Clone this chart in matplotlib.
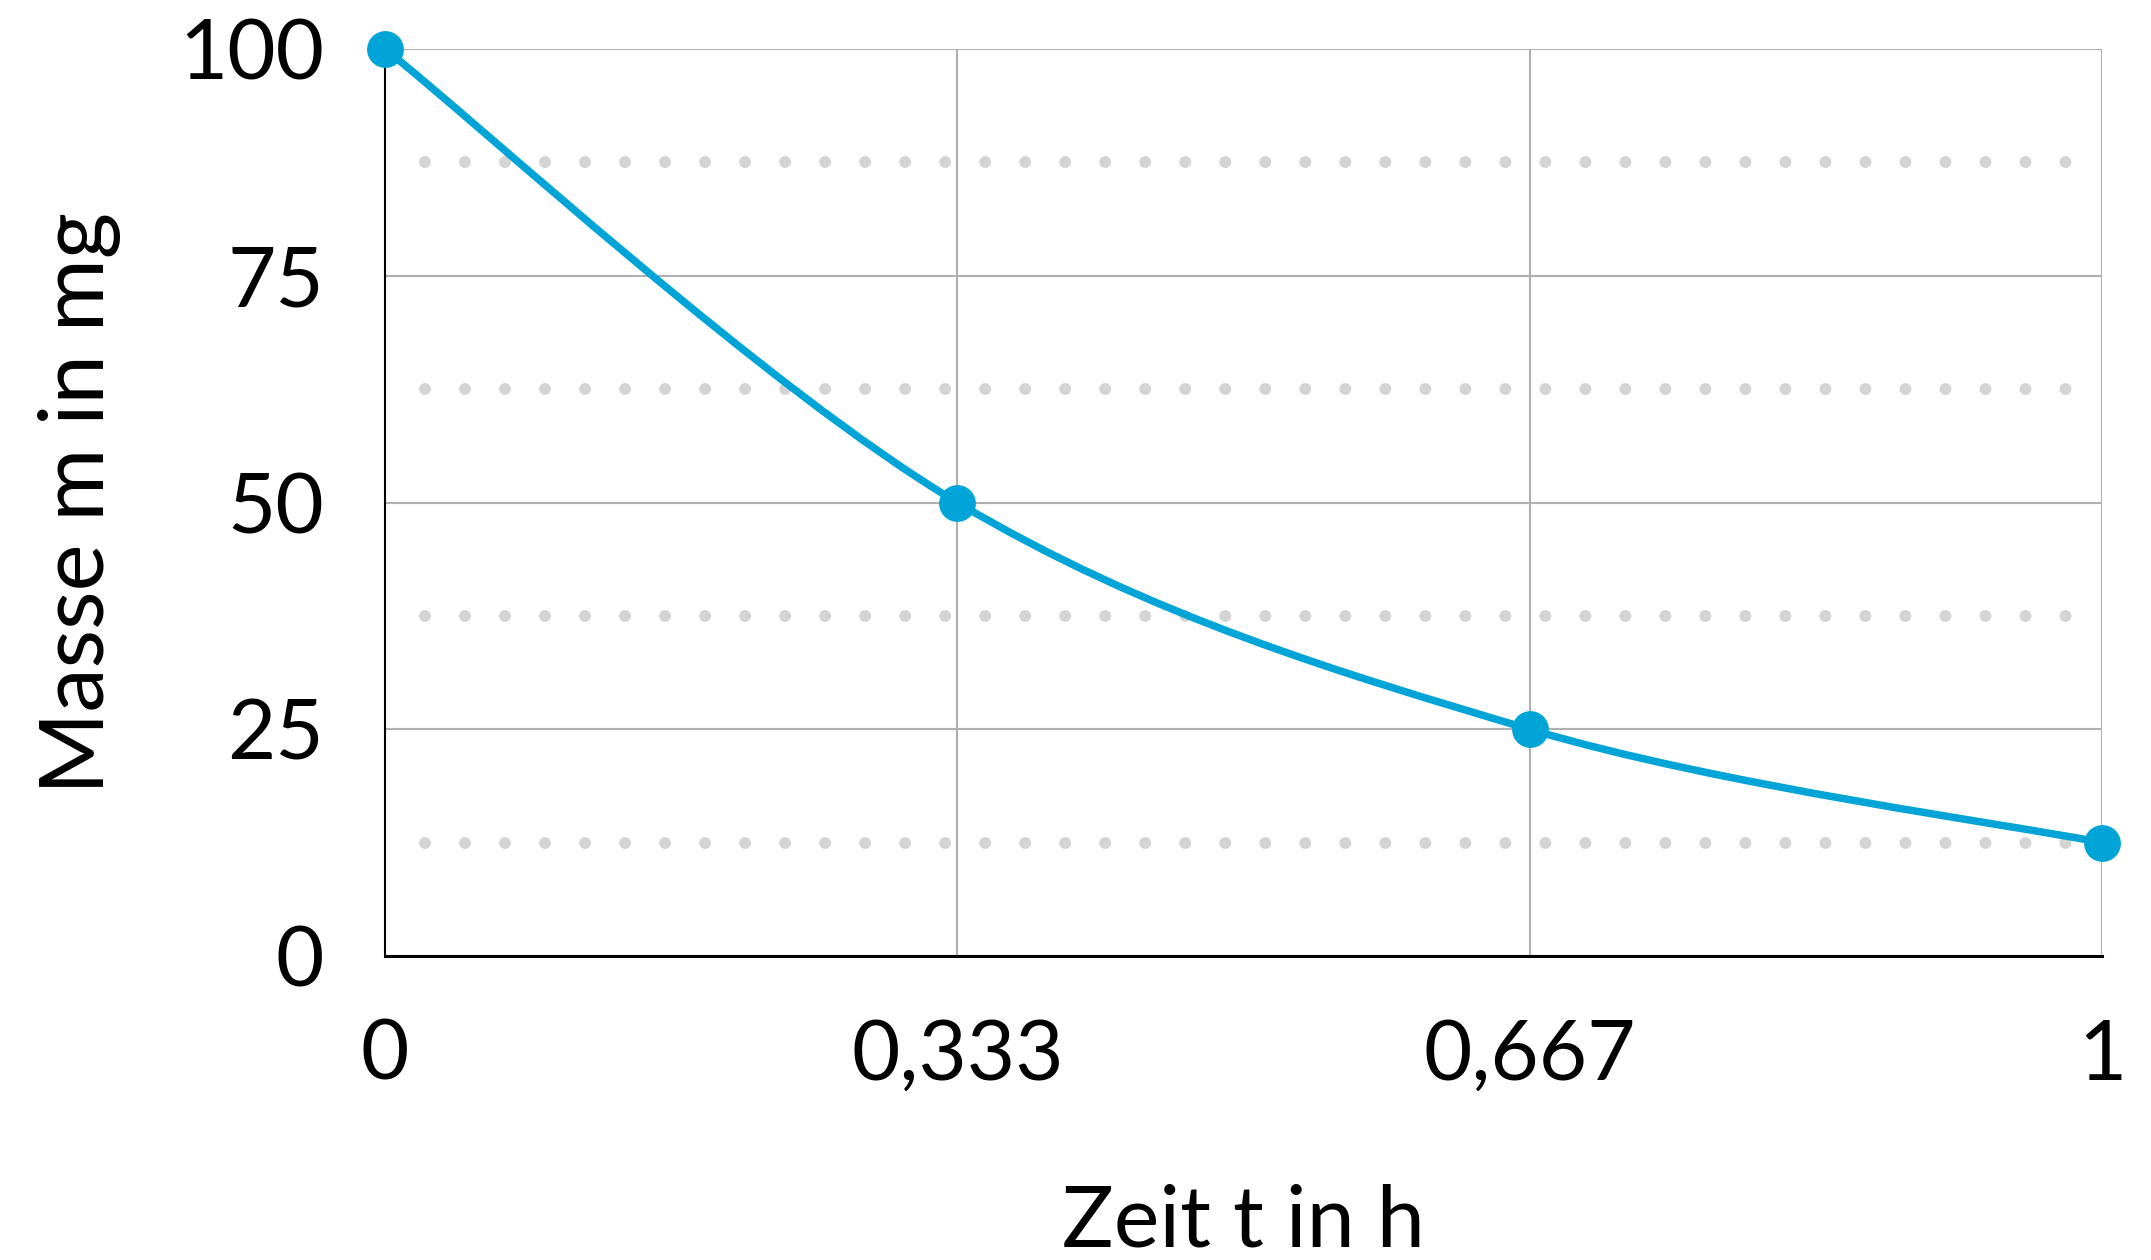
import matplotlib
matplotlib.use("Agg")
import matplotlib.pyplot as plt
from matplotlib.path import Path
from matplotlib.patches import PathPatch
import numpy as np

# ---- data ----
zeit = [0.0, 1/3, 2/3, 1.0]
masse = [100, 50, 25, 12.5]
x_ticks = [0.0, 1/3, 2/3, 1.0]
x_tick_labels = ["0", "0,333", "0,667", "1"]
y_ticks = [0, 25, 50, 75, 100]
y_tick_labels = ["0", "25", "50", "75", "100"]
y_minor = [12.5, 37.5, 62.5, 87.5]
x_label = "Zeit t in h"
y_label = "Masse m in mg"

BLUE = "#00A4D7"
GRID = "#b0b0b0"
DOT = "#d4d4d4"
FONT = "Lato"
FS = 60

plt.rcParams['font.family'] = [FONT, 'DejaVu Sans']

W, H = 2151, 1260
fig = plt.figure(figsize=(W/100, H/100), dpi=100)
L, R, T, B = 385, 2102, 49, 956
ax = fig.add_axes([L/W, (H-B)/H, (R-L)/W, (B-T)/H])
ax.set_xlim(0, 1)
ax.set_ylim(0, 100)

# grid lines
for y in y_ticks[1:]:
    ax.axhline(y, color=GRID, lw=1.5, zorder=1)
for x in x_ticks[1:]:
    ax.axvline(x, color=GRID, lw=1.5, zorder=1)

# dotted minor lines
pw = R - L
sp = 40
dot_px = 12
lw_pt = dot_px * 72 / 100
for y in y_minor:
    ax.axhline(y, xmin=sp/pw, xmax=(42*sp + 1)/pw, color=DOT, lw=lw_pt,
               linestyle=(0, (0.001, sp/dot_px)), dash_capstyle='round', zorder=1)

# smooth curve (Catmull-Rom style, Bezier segments) through data
pts = np.column_stack([zeit, masse])
n = len(pts)
verts = [tuple(pts[0])]
codes = [Path.MOVETO]
for i in range(n - 1):
    p0 = pts[max(i - 1, 0)]
    p1 = pts[i]
    p2 = pts[i + 1]
    p3 = pts[min(i + 2, n - 1)]
    c1 = p1 + (p2 - p0) / 6
    c2 = p2 - (p3 - p1) / 6
    verts += [tuple(c1), tuple(c2), tuple(p2)]
    codes += [Path.CURVE4] * 3
patch = PathPatch(Path(verts, codes), facecolor='none', edgecolor=BLUE,
                  lw=5.4, transform=ax.transData, zorder=3, clip_on=False,
                  capstyle='round')
ax.add_patch(patch)
ax.plot(zeit, masse, linestyle='none', marker='o', ms=26.5, color=BLUE,
        markeredgewidth=0, zorder=4, clip_on=False)

# spines
for s in ['top', 'right']:
    ax.spines[s].set_visible(False)
ax.spines['left'].set_color('black')
ax.spines['left'].set_linewidth(1.5)
ax.spines['bottom'].set_color('black')
ax.spines['bottom'].set_linewidth(2.2)

ax.set_xticks(x_ticks)
ax.set_xticklabels(x_tick_labels)
ax.set_yticks(y_ticks)
ax.set_yticklabels(y_tick_labels)
ax.tick_params(axis='both', length=0, labelsize=FS, colors='black')
ax.tick_params(axis='x', pad=45)
ax.tick_params(axis='y', pad=44)

ax.set_xlabel(x_label, fontsize=62, labelpad=64)
ax.set_ylabel(y_label, fontsize=64, labelpad=42)

fig.savefig("out.png", dpi=100, facecolor='white')
